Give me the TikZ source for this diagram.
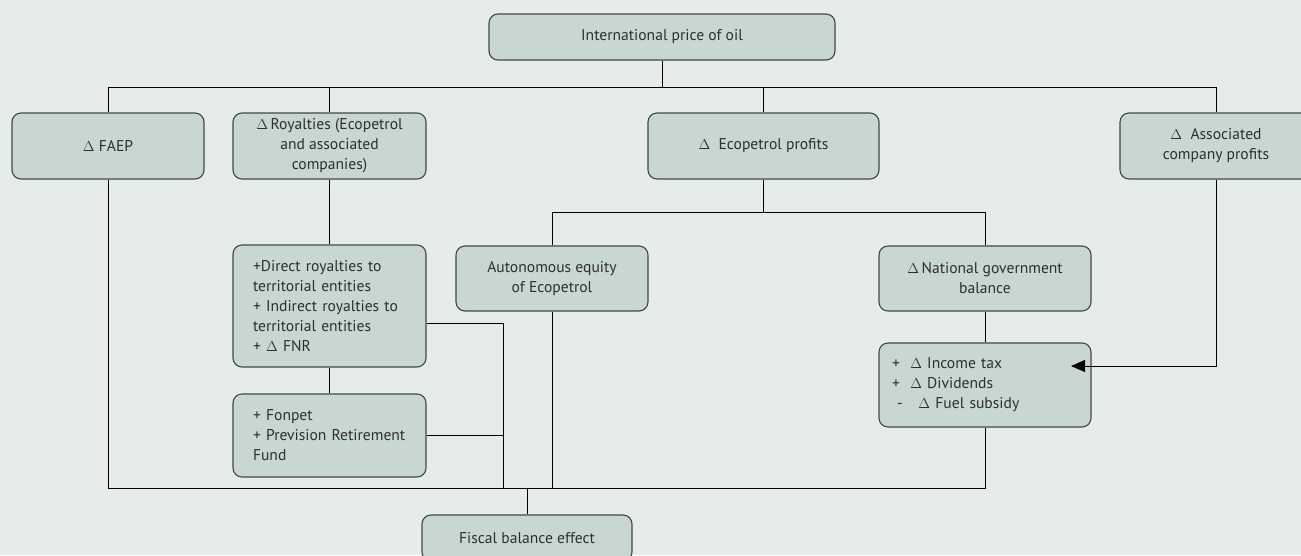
\documentclass[tikz,border=0pt]{standalone}
\usepackage{fontspec}
\setmainfont{PT Sans}
\usetikzlibrary{arrows.meta}
\definecolor{bgcol}{HTML}{E6ECEA}
\definecolor{boxcol}{HTML}{C8D8D0}
\definecolor{edgecol}{HTML}{454545}
\definecolor{txtcol}{HTML}{2E2E2E}
\begin{document}
\begin{tikzpicture}[x=1pt, y=-1pt,
  box/.style={draw=edgecol, fill=boxcol, line width=1.1pt, rounded corners=9pt,
    text=txtcol, font=\fontsize{15.6}{20}\selectfont, align=center, inner sep=0pt},
  listbox/.style={box, align=left, inner xsep=#1},
  wire/.style={line width=0.9pt}]
\useasboundingbox (0,0) rectangle (1301,555);
\clip (0,0) rectangle (1301,555);
\fill[bgcol] (0,0) rectangle (1301,555);
% top row
\node[box, minimum width=346pt, minimum height=46pt] (price) at (662,37) {International price of oil};
\node[box, minimum width=192pt, minimum height=66pt] (faep) at (108,146) {$\Delta$ FAEP};
\node[box, minimum width=193pt, minimum height=66pt] (roy) at (329.5,146) {$\Delta$\,Royalties (Ecopetrol\\and associated\\companies)};
\node[box, minimum width=231pt, minimum height=66pt] (ecop) at (763.5,146) {$\Delta$\ \ Ecopetrol profits};
\node[box, minimum width=192pt, minimum height=66pt] (assoc) at (1216,146) {$\Delta$\ \ Associated\\company profits};
% middle row
\node[box, minimum width=192pt, minimum height=65pt] (auton) at (552,278.5) {Autonomous equity\\of Ecopetrol};
\node[box, minimum width=212pt, minimum height=65pt] (natl) at (985,278.5) {$\Delta$\,National government\\balance};
\node[listbox=20pt, text width=153pt, minimum height=122pt] (direct) at (329.5,306) {+Direct royalties to\\territorial entities\\+ Indirect royalties to\\territorial entities\\+ $\Delta$ FNR};
\node[listbox=20pt, text width=153pt, minimum height=83pt] (fonpet) at (329.5,435.5) {+ Fonpet\\+ Prevision Retirement\\Fund};
\node[listbox=13pt, text width=186pt, minimum height=84pt] (income) at (985,385) {+\ \ $\Delta$ Income tax\\+\ \ $\Delta$ Dividends\\\ -\ \ \ $\Delta$ Fuel subsidy};
\node[box, minimum width=210pt, minimum height=46pt] (fiscal) at (527,538) {Fiscal balance effect};
% bus lines
\coordinate (busT) at (0,87);
\coordinate (busM) at (0,212);
\coordinate (busB) at (0,488);
\coordinate (join) at (503,0);
\coordinate (tip) at (1071,366);
\draw[wire] (price.south) -- (price.south |- busT);
\draw[wire] (faep.north) -- (faep.north |- busT) -- (assoc.north |- busT) -- (assoc.north);
\foreach \n in {roy, ecop} \draw[wire] (\n.north) -- (\n.north |- busT);
\draw[wire] (ecop.south) -- (ecop.south |- busM);
\draw[wire] (auton.north) |- (natl.north |- busM) -- (natl.north);
\draw[wire] (roy.south) -- (direct.north);
\draw[wire] (direct.south) -- (fonpet.north);
\draw[wire] (natl.south) -- (income.north);
\draw[wire] ([yshift=-17pt]direct.east) -| (join |- busB);
\draw[wire] (fonpet.east) -- (join |- fonpet.east);
\draw[wire] (auton.south) -- (auton.south |- busB);
\draw[wire] (faep.south) |- (income.south |- busB) -- (income.south);
\draw[wire] (fiscal.north) -- (fiscal.north |- busB);
\draw[wire, -{Triangle[length=14pt, width=12pt]}] (assoc.south) |- (tip);
\end{tikzpicture}
\end{document}
